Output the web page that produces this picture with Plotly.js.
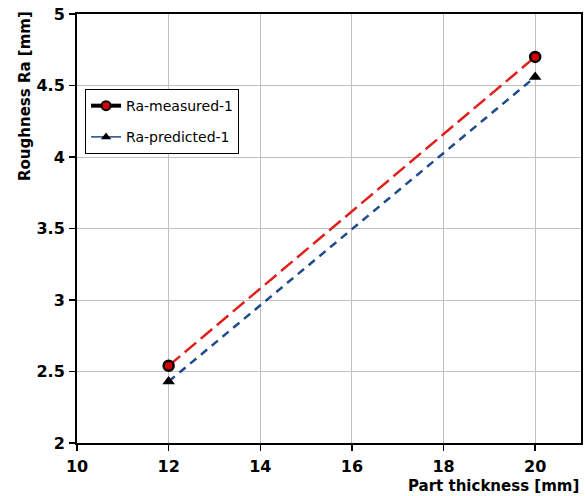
<!DOCTYPE html>
<html><head><meta charset="utf-8">
<script src="https://cdn.plot.ly/plotly-3.0.1.min.js"></script>
<style>body{margin:0;padding:0;background:#fff}#chart{width:585px;height:496px}</style>
</head><body><div id="chart"></div>
<script>
const thickness = [12, 20];
const raMeasured = [2.54, 4.70];
const raPredicted = [2.43, 4.56];
const xTicks = [10, 12, 14, 16, 18, 20];
const yTicks = [2, 2.5, 3, 3.5, 4, 4.5, 5];

const F = 'DejaVu Sans';
const traces = [
  {x: thickness, y: raMeasured, mode: 'lines', showlegend: false,
   line: {color: '#e0201b', width: 2.5, dash: '15px,6px'}},
  {x: thickness, y: raPredicted, mode: 'lines', showlegend: false,
   line: {color: '#1f4a8c', width: 2.5, dash: '8px,6px'}},
  {x: thickness, y: raMeasured, mode: 'markers', showlegend: false,
   marker: {symbol: 'circle', size: 10, color: '#d40000', line: {color: '#000', width: 2.5}}},
  {x: thickness, y: raPredicted, mode: 'markers', showlegend: false,
   marker: {symbol: 'triangle-up', size: 11, color: '#000'}},
  {x: [null], y: [null], name: 'Ra-measured-1', mode: 'lines+markers', legendgroup: 'a',
   line: {color: '#000', width: 4},
   marker: {symbol: 'circle', size: 9, color: '#d40000', line: {color: '#000', width: 2}}},
  {x: [null], y: [null], name: 'Ra-predicted-1', mode: 'lines+markers', legendgroup: 'b',
   line: {color: '#1f4a8c', width: 1.5},
   marker: {symbol: 'triangle-up', size: 9, color: '#000'}}
];
const tf = {family: F, size: 16, weight: 'bold', color: '#000'};
const layout = {
  width: 585, height: 496,
  margin: {l: 77, r: 4, t: 14, b: 53},
  paper_bgcolor: '#fff', plot_bgcolor: '#fff',
  font: {family: F, color: '#000'},
  xaxis: {range: [10, 21], tickvals: xTicks, ticktext: xTicks.map(String),
    showgrid: true, gridcolor: '#c0c0c0', gridwidth: 1, zeroline: false,
    showline: true, linecolor: '#000', linewidth: 2, mirror: true,
    ticks: 'outside', ticklen: 6, tickwidth: 1.5, tickcolor: '#000', ticklabelstandoff: 2,
    tickfont: tf},
  yaxis: {range: [2, 5], tickvals: yTicks, ticktext: yTicks.map(String),
    showgrid: true, gridcolor: '#c0c0c0', gridwidth: 1, zeroline: false,
    showline: true, linecolor: '#000', linewidth: 2, mirror: true,
    ticks: 'outside', ticklen: 6, tickwidth: 1.5, tickcolor: '#000', ticklabelstandoff: 1,
    tickfont: tf},
  legend: {x: 0.016, y: 0.825, xanchor: 'left', yanchor: 'top',
    bgcolor: '#fff', bordercolor: '#000', borderwidth: 1, itemwidth: 30,
    font: {family: F, size: 14, color: '#000'}, tracegroupgap: 10},
  annotations: [
    {text: 'Part thickness [mm]', xref: 'paper', yref: 'paper', x: 1, y: 0,
     xanchor: 'right', yanchor: 'top', yshift: -32, showarrow: false,
     font: {family: F, size: 15, weight: 'bold', color: '#000'}},
    {text: 'Roughness Ra [mm]', xref: 'paper', yref: 'paper', x: 0, y: 1,
     xanchor: 'right', yanchor: 'top', xshift: -41, yshift: 5, textangle: -90, showarrow: false,
     font: {family: F, size: 15, weight: 'bold', color: '#000'}}
  ]
};
Plotly.newPlot('chart', traces, layout, {displayModeBar: false, staticPlot: true});
</script></body></html>
